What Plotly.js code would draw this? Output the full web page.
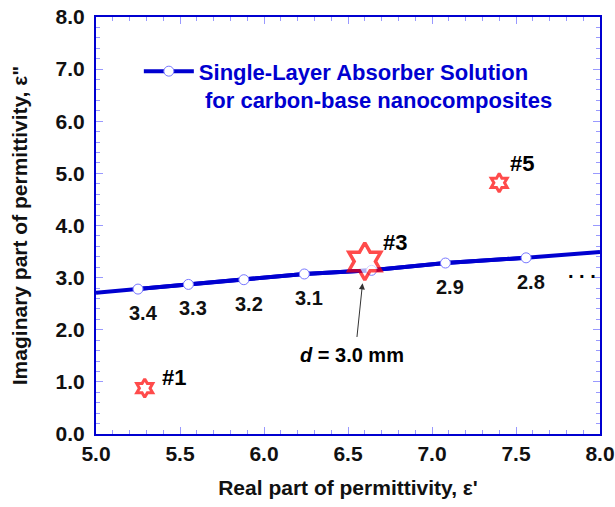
<!DOCTYPE html>
<html>
<head>
<meta charset="utf-8">
<script src="https://cdn.plot.ly/plotly-3.0.1.min.js"></script>
<style>body{margin:0;padding:0;background:#fff}#chart{width:615px;height:507px}</style>
</head>
<body>
<div id="chart"></div>
<script>
// Single-layer absorber solution curve (thickness d in mm labels)
var lineX = [5.00, 5.25, 5.55, 5.88, 6.24, 6.64, 7.08, 7.56, 8.00];
var lineY = [2.71, 2.78, 2.87, 2.96, 3.07, 3.14, 3.28, 3.38, 3.49];
var ptX = [5.25, 5.55, 5.88, 6.24, 6.64, 7.08, 7.56];
var ptY = [2.78, 2.87, 2.96, 3.07, 3.14, 3.28, 3.38];
var ptLabels = ['3.4', '3.3', '3.2', '3.1', '', '2.9', '2.8'];
// Samples
var sampleNames = ['#1', '#3', '#5'];
var sampleX = [5.29, 6.60, 7.40];
var sampleY = [0.88, 3.31, 4.82];
var sampleSizes = [14, 28, 14];
var xTicks = [5.0, 5.5, 6.0, 6.5, 7.0, 7.5, 8.0];
var yTicks = [0, 1, 2, 3, 4, 5, 6, 7, 8];

var blue = '#0000d0';
var font = 'Liberation Sans, Arial, sans-serif';

var traces = [
  {x: lineX, y: lineY, mode: 'lines', line: {color: blue, width: 4}, showlegend: false, hoverinfo: 'skip'},
  {x: ptX, y: ptY, mode: 'lines+markers',
   name: 'Single-Layer Absorber Solution<br> for carbon-base nanocomposites',
   line: {color: blue, width: 4},
   marker: {symbol: 'circle', size: 10, color: '#ffffff', line: {color: '#7777ff', width: 1}}},
  {x: sampleX, y: sampleY, mode: 'markers', showlegend: false,
   marker: {symbol: 'hexagram', size: sampleSizes, color: '#ffffff', line: {color: '#ff0000', width: [3, 3.5, 3]}}}
];

var annotations = [];
// thickness labels below the solution points
for (var j = 0; j < ptX.length; j++) {
  if (!ptLabels[j]) continue;
  annotations.push({x: ptX[j], y: ptY[j], xref: 'x', yref: 'y', text: '<b>' + ptLabels[j] + '</b>',
    showarrow: false, xanchor: 'center', yanchor: 'middle', xshift: 5, yshift: -24,
    font: {family: font, size: 20, color: '#111'}});
}
var nameShiftX = [15, 16, 9];
var nameShiftY = [-4, 4, 5];
for (var i = 0; i < sampleNames.length; i++) {
  annotations.push({x: sampleX[i], y: sampleY[i], xref: 'x', yref: 'y', text: '<b>' + sampleNames[i] + '</b>',
    showarrow: false, xanchor: 'left', yanchor: 'bottom', xshift: nameShiftX[i], yshift: nameShiftY[i],
    font: {family: font, size: 22, color: '#000'}});
}
// arrow pointing at sample #3
annotations.push({x: sampleX[1], y: sampleY[1], xref: 'x', yref: 'y', ax: -8, ay: 77,
  text: '', showarrow: true, arrowhead: 2, arrowsize: 1.2, arrowwidth: 1, arrowcolor: '#333', standoff: 22});
annotations.push({x: sampleX[1], y: sampleY[1], xref: 'x', yref: 'y', xshift: -13, yshift: -94,
  text: '<b><i>d</i> = 3.0 mm</b>', showarrow: false,
  font: {family: font, size: 20, color: '#000'}});
// continuation dots
annotations.push({x: 0.996, y: 0.391, xref: 'paper', yref: 'paper', text: '<b>. . .</b>', showarrow: false,
  font: {family: font, size: 20, color: '#000'}});

var layout = {
  width: 615, height: 507,
  margin: {l: 96, r: 15, t: 17, b: 73},
  paper_bgcolor: '#fff', plot_bgcolor: '#fff',
  font: {family: font},
  showlegend: true,
  legend: {x: 0.085, y: 0.92, xanchor: 'left', yanchor: 'top', valign: 'top', bgcolor: 'rgba(0,0,0,0)',
    font: {family: font, size: 22, color: blue, weight: 'bold'}, itemwidth: 50},
  xaxis: {range: [5, 8], tickvals: xTicks, ticktext: xTicks.map(function(v){return '<b>' + v.toFixed(1) + '</b>';}),
    ticks: 'inside', ticklen: 7, tickcolor: '#9999ff', tickwidth: 1, showgrid: false, zeroline: false,
    showline: true, linecolor: blue, linewidth: 2, mirror: 'ticks',
    minor: {dtick: 0.1, ticks: 'inside', ticklen: 4, tickcolor: '#9999ff', showgrid: false},
    tickfont: {family: font, size: 21, color: '#111'},
    title: {text: "<b>Real part of permittivity, ε'</b>", font: {family: font, size: 21, color: '#111'}, standoff: 16}},
  yaxis: {range: [0, 8], tickvals: yTicks, ticktext: yTicks.map(function(v){return '<b>' + v.toFixed(1) + '</b>';}),
    ticks: 'inside', ticklen: 7, tickcolor: '#9999ff', tickwidth: 1, showgrid: false, zeroline: false,
    showline: true, linecolor: blue, linewidth: 2, mirror: 'ticks', ticklabelstandoff: 5,
    minor: {dtick: 0.2, ticks: 'inside', ticklen: 4, tickcolor: '#9999ff', showgrid: false},
    tickfont: {family: font, size: 21, color: '#111'},
    title: {text: '<b>Imaginary part of permittivity, ε"</b>', font: {family: font, size: 21, color: '#111'}, standoff: 22}},
  annotations: annotations
};

Plotly.newPlot('chart', traces, layout, {displayModeBar: false, staticPlot: true});
</script>
</body>
</html>
